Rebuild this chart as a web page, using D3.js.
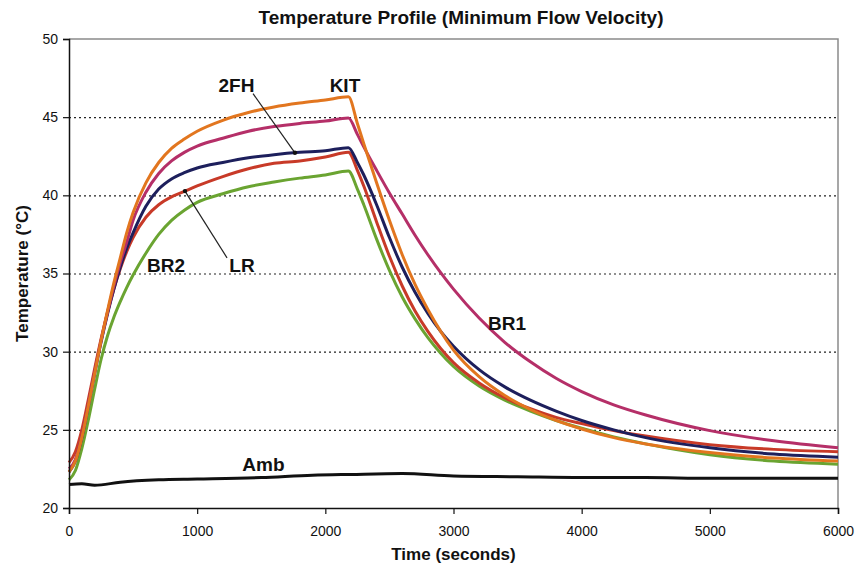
<!doctype html>
<html>
<head>
    <meta charset="utf-8">
    <style>
        body {
            margin: 0;
            background: #fff;
            font-family: 'Liberation Sans', Arial, sans-serif;
        }

        svg text {
            fill: #111;
        }

        text.title {
            font-size: 19px;
            font-weight: 700;
        }

        text.axis-title {
            font-size: 17px;
            font-weight: 700;
        }

        text.series-label {
            font-size: 19px;
            font-weight: 700;
        }

        .tick text {
            font-size: 14px;
            font-family: 'Liberation Sans', Arial, sans-serif;
        }

        .grid line {
            stroke: #222;
            stroke-dasharray: 2 3;
            stroke-width: 1.2;
        }

        .grid path {
            stroke-width: 0;
        }

        path.series {
            fill: none;
            stroke-width: 3;
            stroke-linejoin: round;
        }
    </style>
    <script src="https://d3js.org/d3.v7.min.js"></script>
</head>
<body>
<svg width="860" height="571"></svg>
<script>
    // time samples (seconds) shared by the heated sensors
    const times = [0, 50, 100, 150, 200, 250, 300, 350, 400, 450, 500, 600, 700, 800, 900, 1000, 1200, 1400, 1600, 1800, 2000, 2180,
                   2250, 2300, 2400, 2500, 2600, 2700, 2800, 2900, 3000, 3200, 3400, 3600, 3800, 4000, 4250, 4500, 5000, 5500, 6000]

    const kit = [22.3, 23.0, 24.5, 26.5, 28.6, 30.7, 32.6, 34.4, 36.0, 37.6, 38.9, 40.8, 42.1, 43.0, 43.6, 44.1, 44.8, 45.3, 45.65, 45.9, 46.1, 46.3,
                 44.6, 43.3, 40.8, 38.4, 36.2, 34.3, 32.7, 31.3, 30.1, 28.4, 27.2, 26.3, 25.6, 25.05, 24.5, 24.1, 23.55, 23.2, 23.0]

    const br1 = [22.5, 23.1, 24.6, 26.6, 28.7, 30.7, 32.5, 34.2, 35.7, 37.0, 38.4, 40.2, 41.4, 42.2, 42.75, 43.15, 43.65, 44.1, 44.4, 44.6, 44.75, 44.95,
                 43.9, 43.1, 41.6, 40.15, 38.8, 37.45, 36.2, 35.05, 34.0, 32.15, 30.6, 29.35, 28.3, 27.45, 26.6, 25.95, 24.95, 24.3, 23.85]

    const fh2 = [22.3, 23.0, 24.5, 26.5, 28.6, 30.6, 32.4, 34.0, 35.4, 36.6, 37.6, 39.3, 40.4, 41.05, 41.45, 41.75, 42.1, 42.4, 42.6, 42.75, 42.85, 43.05,
                 42.1, 41.3, 39.4, 37.3, 35.4, 33.8, 32.45, 31.3, 30.35, 28.85, 27.75, 26.9, 26.2, 25.6, 25.0, 24.5, 23.85, 23.45, 23.25]

    const lr = [22.9, 23.6, 25.0, 26.9, 28.9, 30.8, 32.5, 34.0, 35.3, 36.4, 37.3, 38.6, 39.4, 39.9, 40.25, 40.6, 41.2, 41.7, 42.05, 42.2, 42.45, 42.75,
                41.6, 40.6, 38.3, 36.1, 34.2, 32.6, 31.3, 30.2, 29.3, 28.0, 27.05, 26.35, 25.8, 25.4, 24.95, 24.6, 24.05, 23.75, 23.6]

    const br2 = [21.8, 22.4, 23.8, 25.6, 27.6, 29.5, 31.0, 32.2, 33.2, 34.1, 34.9, 36.3, 37.5, 38.4, 39.05, 39.55, 40.1, 40.55, 40.85, 41.1, 41.3, 41.55,
                 40.4, 39.4, 37.2, 35.2, 33.5, 32.1, 30.9, 29.9, 29.05, 27.8, 26.9, 26.2, 25.6, 25.1, 24.55, 24.1, 23.4, 23.0, 22.8]

    // ambient sensor
    const ambTimes = [0, 100, 200, 400, 700, 1000, 1500, 1900, 2200, 2600, 3000, 3500, 4000, 4500, 5000, 5500, 6000]
    const amb = [21.5, 21.55, 21.45, 21.65, 21.8, 21.85, 21.95, 22.1, 22.15, 22.2, 22.05, 22.0, 21.95, 21.95, 21.9, 21.9, 21.9]

    const xTicks = [0, 1000, 2000, 3000, 4000, 5000, 6000]
    const yTicks = [20, 25, 30, 35, 40, 45, 50]

    const series = [
        {name: 'BR2', values: br2, color: '#6aa431'},
        {name: 'LR', values: lr, color: '#c83a28'},
        {name: '2FH', values: fh2, color: '#1d1f5c'},
        {name: 'BR1', values: br1, color: '#b52f68'},
        {name: 'KIT', values: kit, color: '#e2761f'}
    ]

    const svg = d3.select('svg')
    const margin = {top: 39, right: 22, bottom: 63, left: 69}
    const width = 860 - margin.left - margin.right
    const height = 571 - margin.top - margin.bottom

    const chart = svg.append('g')
        .attr('transform', `translate(${margin.left}, ${margin.top})`)

    const xScale = d3.scaleLinear().domain([0, 6000]).range([0, width])
    const yScale = d3.scaleLinear().domain([20, 50]).range([height, 0])

    // dotted horizontal grid
    chart.append('g')
        .attr('class', 'grid')
        .call(d3.axisLeft(yScale)
            .tickValues(yTicks.slice(1, -1))
            .tickSize(-width)
            .tickFormat(''))

    // frame top + right
    chart.append('path')
        .attr('d', `M0,0H${width}V${height}`)
        .attr('fill', 'none')
        .attr('stroke', '#8a8a8a')
        .attr('stroke-width', 1.5)

    const line = d3.line()
        .x(d => xScale(d[0]))
        .y(d => yScale(d[1]))
        .curve(d3.curveMonotoneX)

    chart.append('path')
        .attr('class', 'series')
        .attr('d', line(ambTimes.map((t, i) => [t, amb[i]])))
        .attr('stroke', '#111')
        .attr('stroke-width', 2.8)

    series.forEach(s => {
        chart.append('path')
            .attr('class', 'series')
            .attr('d', line(times.map((t, i) => [t, s.values[i]])))
            .attr('stroke', s.color)
    })

    // axes
    const xAxis = chart.append('g')
        .attr('transform', `translate(0, ${height})`)
        .call(d3.axisBottom(xScale).tickValues(xTicks).tickSize(6).tickPadding(12).tickFormat(d3.format('d')))
    const yAxis = chart.append('g')
        .call(d3.axisLeft(yScale).tickValues(yTicks).tickSize(6).tickPadding(5))

    ;[xAxis, yAxis].forEach(a => {
        a.select('.domain').attr('stroke', '#111').attr('stroke-width', 1.5)
        a.selectAll('.tick line').attr('stroke', '#111').attr('stroke-width', 1.2)
        a.selectAll('.tick text').attr('fill', '#222')
    })

    // series labels
    const labels = [
        {text: '2FH', t: 1307, v: 46.6},
        {text: 'KIT', t: 2153, v: 46.6},
        {text: 'BR2', t: 757, v: 35.1},
        {text: 'LR', t: 1350, v: 35.1},
        {text: 'BR1', t: 3417, v: 31.4},
        {text: 'Amb', t: 1517, v: 22.35}
    ]
    chart.selectAll('text.series-label')
        .data(labels)
        .enter()
        .append('text')
        .attr('class', 'series-label')
        .attr('x', d => xScale(d.t))
        .attr('y', d => yScale(d.v))
        .attr('text-anchor', 'middle')
        .text(d => d.text)

    // pointer lines
    const pointers = [
        {from: [1436, 46.5], to: [1763, 42.72]},
        {from: [1233, 36.0], to: [905, 40.27]}
    ]
    pointers.forEach(p => {
        chart.append('line')
            .attr('x1', xScale(p.from[0])).attr('y1', yScale(p.from[1]))
            .attr('x2', xScale(p.to[0])).attr('y2', yScale(p.to[1]))
            .attr('stroke', '#222')
            .attr('stroke-width', 1.2)
        chart.append('circle')
            .attr('cx', xScale(p.to[0])).attr('cy', yScale(p.to[1]))
            .attr('r', 2.2)
            .attr('fill', '#111')
    })

    svg.append('text')
        .attr('class', 'title')
        .attr('x', 461)
        .attr('y', 24)
        .attr('text-anchor', 'middle')
        .text('Temperature Profile (Minimum Flow Velocity)')

    svg.append('text')
        .attr('class', 'axis-title')
        .attr('x', margin.left + width / 2)
        .attr('y', 560)
        .attr('text-anchor', 'middle')
        .text('Time (seconds)')

    svg.append('text')
        .attr('class', 'axis-title')
        .attr('transform', `translate(28, ${margin.top + height / 2}) rotate(-90)`)
        .attr('text-anchor', 'middle')
        .text('Temperature (°C)')
</script>
</body>
</html>
